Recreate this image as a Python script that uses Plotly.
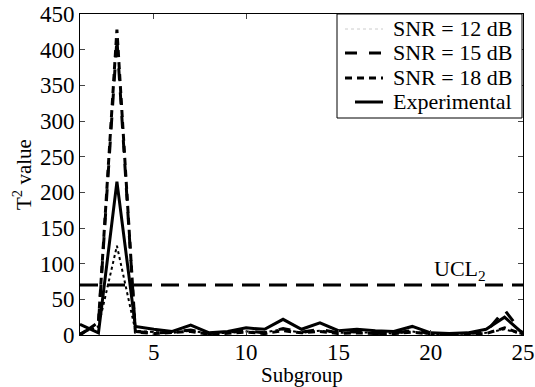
import plotly.graph_objects as go

subgroup = list(range(1, 26))
snr12 = [2, 12, 125, 6, 4, 3, 6, 2, 3, 5, 4, 8, 3, 6, 3, 4, 3, 2, 5, 1, 1, 2, 3, 8, 1]
snr15 = [1, 16, 415, 5, 3, 4, 7, 2, 4, 6, 3, 9, 4, 8, 3, 5, 2, 3, 6, 2, 1, 2, 4, 35, 2]
snr18 = [0, 18, 428, 4, 2, 3, 5, 1, 3, 4, 2, 6, 3, 5, 2, 3, 2, 2, 4, 1, 1, 1, 2, 10, 1]
experimental = [15, 3, 215, 12, 8, 5, 14, 3, 5, 10, 8, 22, 8, 17, 6, 8, 6, 5, 12, 3, 2, 3, 8, 25, 2]
ucl2 = 70
series_names = ["SNR = 12 dB", "SNR = 15 dB", "SNR = 18 dB", "Experimental"]
series_dash = ["dot", "12px,12px", "7px,5px", "solid"]
series_width = [2, 3, 3, 3]

font = "Liberation Serif"
W, H = 535, 387
L, R, T, B = 80, 12, 14, 52
PW, PH = W - L - R, H - T - B


def px(x):
    return (x - L) / PW


def py(y):
    return (H - B - y) / PH


fig = go.Figure()
for name, ys, d, w in zip(series_names, [snr12, snr15, snr18, experimental], series_dash, series_width):
    fig.add_trace(go.Scatter(x=subgroup, y=ys, mode="lines", name=name, showlegend=False,
                             line=dict(color="black", width=w, dash=d)))
fig.add_trace(go.Scatter(x=[1, 25], y=[ucl2, ucl2], mode="lines", showlegend=False,
                         line=dict(color="black", width=3, dash="18px,9px")))
fig.add_annotation(x=21.6, y=ucl2 + 21, text="UCL<sub>2</sub>", showarrow=False,
                   font=dict(family=font, size=22, color="black"))

# legend drawn manually
fig.add_shape(type="rect", xref="paper", yref="paper", x0=px(337), x1=px(522),
              y0=py(118), y1=py(14), line=dict(color="black", width=1), fillcolor="white", layer="above")
row_y = [28, 52, 77, 101]
for name, d, w, ry in zip(series_names, series_dash, series_width, row_y):
    fig.add_annotation(xref="paper", yref="paper", x=px(514), y=py(ry), xanchor="right",
                       yanchor="middle", text=name, showarrow=False,
                       font=dict(family=font, size=22, color="black"))
    x0 = 345 if d != "solid" else 355
    fig.add_shape(type="line", xref="paper", yref="paper", x0=px(x0), x1=px(383),
                  y0=py(ry + 1), y1=py(ry + 1), layer="above",
                  line=dict(color="black" if d != "dot" else "#cccccc", width=w if d != "dot" else 1,
                            dash=d if d not in ("solid",) else None))

# x axis title
fig.add_annotation(xref="paper", yref="paper", x=0.5, y=py(375), yanchor="middle",
                   text="Subgroup", showarrow=False, font=dict(family=font, size=21, color="black"))

fig.update_layout(
    width=W, height=H,
    margin=dict(l=L, r=R, t=T, b=B, autoexpand=False),
    paper_bgcolor="white", plot_bgcolor="white",
    font=dict(family=font, size=23, color="black"),
    showlegend=False,
)
fig.update_xaxes(range=[1, 25], tickvals=[5, 10, 15, 20, 25], ticks="inside", ticklen=5,
                 showline=True, linecolor="black", linewidth=1, mirror="ticks",
                 showgrid=False, zeroline=False, automargin=False, ticklabelstandoff=-4)
fig.update_yaxes(range=[0, 450], dtick=50, ticks="inside", ticklen=5,
                 showline=True, linecolor="black", linewidth=1, mirror="ticks",
                 showgrid=False, zeroline=False, automargin=False,
                 title=dict(text="T<sup>2</sup> value", standoff=2, font=dict(size=21)))

fig.write_html("out.html")
